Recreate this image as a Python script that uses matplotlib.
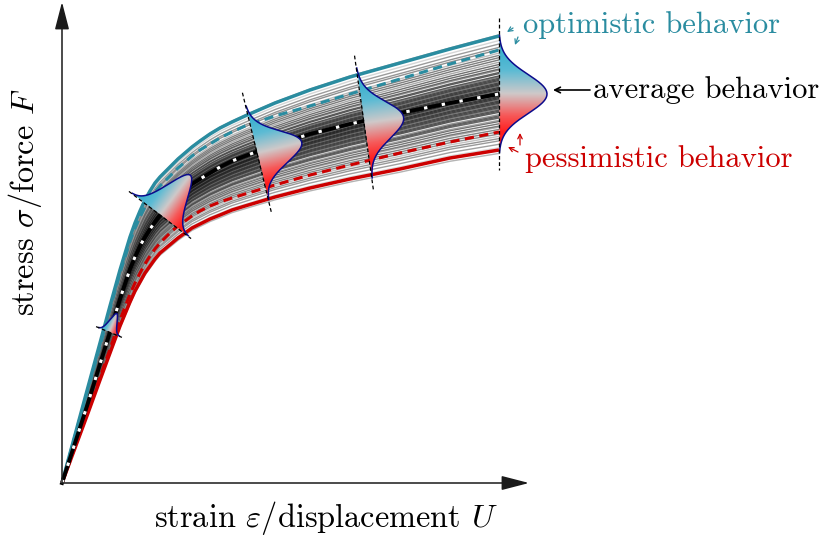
"""
Schematic stress-strain bundle with optimistic / average / pessimistic behaviour
"""
import numpy as np
import matplotlib.pyplot as plt
from matplotlib.colors import LinearSegmentedColormap
from matplotlib.patches import Polygon

plt.rcParams['font.family'] = 'cmr10'
plt.rcParams['mathtext.fontset'] = 'cm'
plt.rcParams['axes.formatter.use_mathtext'] = True

# readings of the curves (arbitrary units, origin at the axes corner)
strain = [0, 13, 26, 38, 48, 58, 68, 73, 78, 83, 88, 93, 98, 104, 110, 116, 123, 130, 138,
          148, 158, 170, 183, 213, 248, 288, 338, 388, 437]
stress_opt = [0, 48, 96, 140, 177, 213, 246, 260, 272, 283, 292, 300, 306, 312, 318, 324, 330,
              336, 342, 349, 355, 361, 367, 380, 393, 406, 420, 434, 447]
stress_opt_q = [0, 47, 94, 137, 174, 210, 242, 255, 266, 276, 284, 291, 297, 303, 309, 315, 321,
                327, 333, 339, 345, 351, 357, 367, 377, 389, 404, 419, 433]
stress_avg = [0, 40, 80, 119, 151, 184, 214, 226, 237, 246, 254, 261, 268, 275, 281, 287, 293,
              299, 304, 310, 316, 322, 327, 338, 349, 359, 370, 380, 389]
stress_pess_q = [0, 36, 72, 106, 134, 163, 189, 200, 210, 219, 227, 234, 240, 246, 252, 257, 262,
                 267, 272, 277, 281, 285, 289, 298, 308, 318, 330, 341, 351]
stress_pess = [0, 35, 70, 103, 130, 157, 181, 192, 201, 210, 217, 224, 230, 235, 240, 245, 250,
               255, 259, 264, 268, 273, 277, 286, 295, 304, 314, 325, 333]

# position of each sample curve between pessimistic (0) and optimistic (1)
bundle_frac = [-0.03, 0.02, 0.05, 0.08, 0.1, 0.12, 0.14, 0.16, 0.18, 0.2, 0.21, 0.23, 0.25,
               0.26, 0.28, 0.29, 0.3, 0.31, 0.33, 0.34, 0.35, 0.36, 0.37, 0.38, 0.39, 0.4,
               0.41, 0.42, 0.43, 0.44, 0.45, 0.46, 0.47, 0.48, 0.49, 0.5, 0.51, 0.52, 0.53,
               0.54, 0.55, 0.56, 0.57, 0.58, 0.59, 0.6, 0.61, 0.62, 0.63, 0.64, 0.65, 0.67,
               0.68, 0.7, 0.71, 0.73, 0.75, 0.77, 0.79, 0.81, 0.83, 0.85, 0.88, 0.9, 0.93,
               0.96, 1.01]

# distributions: centre on the average curve, section angle, sigma, peak height, section half length
dist_strain = [47, 98, 195, 302, 437]
dist_stress = [151, 268, 330, 360, 389]
dist_angle = [-22.6, -37.2, -76.4, -82.0, -90.0]
dist_sigma = [3.7, 11.7, 16.0, 18.5, 19.5]
dist_peak = [20, 50, 46, 40, 48]
dist_half = [14, 39, 62, 68, 76]

teal = '#2a8ca0'
red = '#cc0000'

fig = plt.figure(figsize=(8.23, 5.39), dpi=100)
ax = fig.add_axes([0, 0, 1, 1])
ax.axis('off')

lo = np.array(stress_pess, dtype=float)
hi = np.array(stress_opt, dtype=float)
for i, f in enumerate(bundle_frac):
    g = 0.02 + 1.15 * abs(f - 0.5) + (0.25 if i % 4 == 1 else 0.0)
    ax.plot(strain, lo + f * (hi - lo), color=str(min(g, 0.88)), lw=1.0, alpha=0.8, zorder=1)

ax.plot(strain, stress_opt, color=teal, lw=2.5, zorder=2, solid_capstyle='butt')
ax.plot(strain, stress_pess, color=red, lw=2.5, zorder=2, solid_capstyle='butt')
ax.plot(strain, stress_opt_q, color=teal, lw=2.2, dashes=(3, 1.8), zorder=2)
ax.plot(strain, stress_pess_q, color=red, lw=2.2, dashes=(3, 1.8), zorder=2)
ax.plot(strain, stress_avg, color='black', lw=2.8, zorder=3)
ax.plot(strain, stress_avg, color='white', lw=2.2, dashes=(1.1, 4.8), zorder=3)

cmap = LinearSegmentedColormap.from_list(
    'optpess', [(0, '#42b2cf'), (0.2, '#5cbbd4'), (0.5, '#cfc9c9'), (0.78, '#f65a5a'), (1, '#ff1e1e')])
for cx, cy, ang, sig, h, half in zip(dist_strain, dist_stress, dist_angle, dist_sigma, dist_peak, dist_half):
    a = np.deg2rad(ang)
    d = np.array([np.cos(a), np.sin(a)])
    n = np.array([-d[1], d[0]])
    t = np.linspace(-3 * sig, 3 * sig, 150)
    gv = h * np.exp(-0.5 * (t / sig) ** 2)
    xs = cx + t * d[0] + gv * n[0]
    ys = cy + t * d[1] + gv * n[1]
    pts = np.column_stack([xs, ys])
    x0, x1 = xs.min() - 2, xs.max() + 2
    y0, y1 = ys.min() - 2, ys.max() + 2
    X, Y = np.meshgrid(np.linspace(x0, x1, 120), np.linspace(y0, y1, 120))
    proj = ((X - cx) * d[0] + (Y - cy) * d[1]) / (2 * sig)
    im = ax.imshow((np.clip(proj, -1, 1) + 1) / 2, extent=(x0, x1, y0, y1), origin='lower',
                   cmap=cmap, vmin=0, vmax=1, zorder=4, interpolation='bilinear')
    patch = Polygon(pts, closed=True, facecolor='none', edgecolor='none')
    ax.add_patch(patch)
    im.set_clip_path(patch)
    ax.plot(xs, ys, color='#0b0b8c', lw=1.1, zorder=5)
    ax.plot([cx - half * d[0], cx + half * d[0]], [cy - half * d[1], cy + half * d[1]],
            color='black', lw=0.9, dashes=(3, 2), zorder=6)

# axes arrows
arrow = dict(arrowstyle='-|>,head_length=0.85,head_width=0.22', lw=1.1, color='#1a1a1a',
             shrinkA=0, shrinkB=0, mutation_scale=20)
ax.annotate('', xy=(467, 0), xytext=(0, 0), arrowprops=arrow)
ax.annotate('', xy=(0, 481), xytext=(0, 0), arrowprops=arrow)

ax.text(264, -44, r'strain $\varepsilon$/displacement $U$', fontsize=23.3, ha='center', va='baseline')
ax.text(-37, 281, r'stress $\sigma$/force $F$', fontsize=23.3, ha='center', va='center', rotation=90)

ax.text(461, 450, 'optimistic behavior', fontsize=22, color=teal, ha='left', va='baseline')
ax.text(531, 385, 'average behavior', fontsize=22, color='black', ha='left', va='baseline')
ax.text(463, 316, 'pessimistic behavior', fontsize=22, color=red, ha='left', va='baseline')

ax.annotate('', xy=(491, 393), xytext=(528, 393),
            arrowprops=dict(arrowstyle='->', lw=1.2, color='black', shrinkA=0, shrinkB=0))
small = dict(arrowstyle='->', lw=0.9, shrinkA=0, shrinkB=0, mutation_scale=8)
ax.annotate('', xy=(445, 451), xytext=(451, 455), arrowprops=dict(small, color=teal))
ax.annotate('', xy=(453, 438), xytext=(456, 446), arrowprops=dict(small, color=teal))
ax.annotate('', xy=(458, 350), xytext=(458, 338), arrowprops=dict(small, color=red))
ax.annotate('', xy=(446, 336), xytext=(456, 331), arrowprops=dict(small, color=red))

ax.set_xlim(-62, 761)
ax.set_ylim(-56, 483)
ax.set_aspect('auto')

plt.savefig('out.png', dpi=100)
